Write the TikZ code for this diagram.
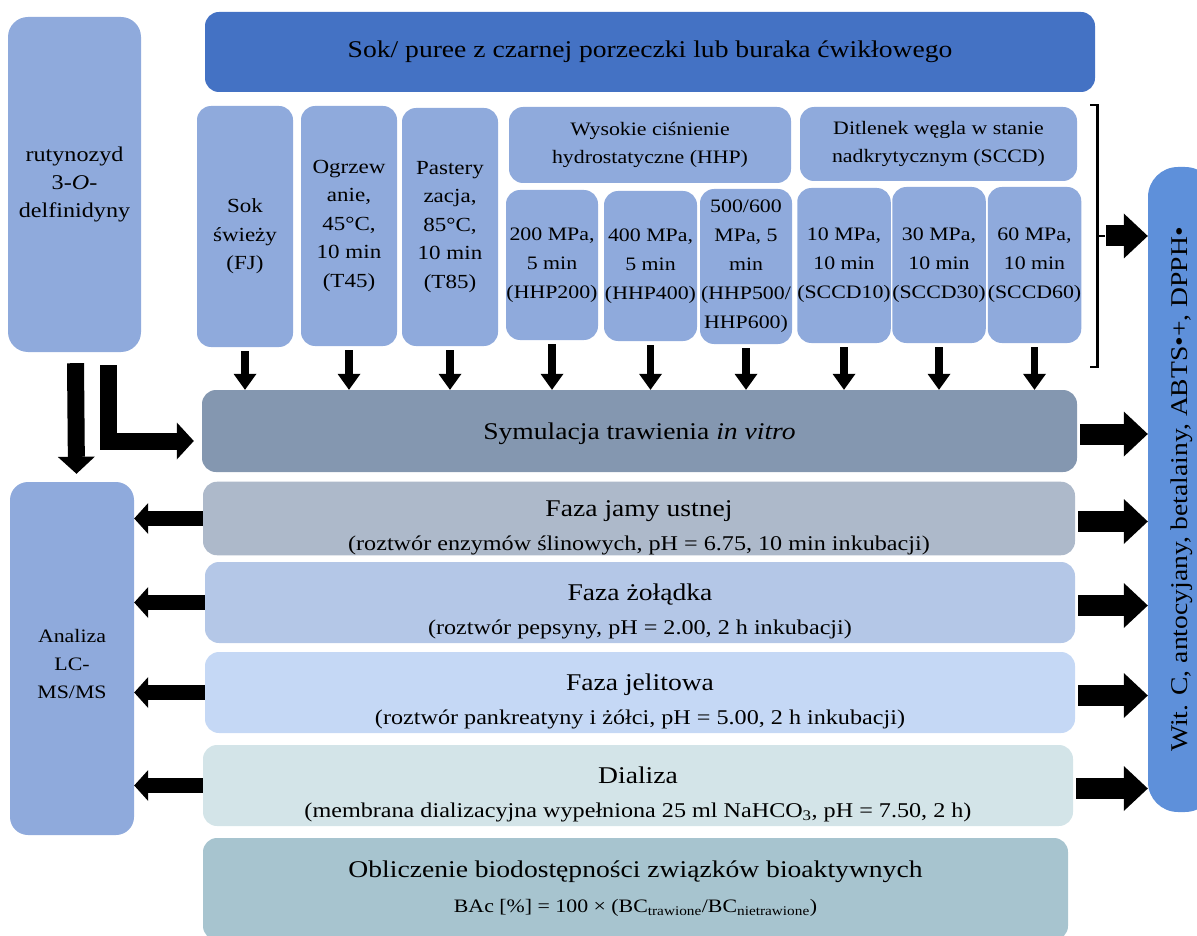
\documentclass[tikz,border=0pt]{standalone}
\usepackage{fontspec}
\setmainfont{Liberation Serif}[FakeStretch=1.15]
\usetikzlibrary{arrows.meta}
\definecolor{cBox}{HTML}{8FAADC}
\definecolor{cHead}{HTML}{4472C4}
\definecolor{cSym}{HTML}{8497B0}
\definecolor{cJama}{HTML}{ADB9CA}
\definecolor{cZol}{HTML}{B4C7E7}
\definecolor{cJel}{HTML}{C5D8F5}
\definecolor{cDial}{HTML}{D3E4E8}
\definecolor{cObl}{HTML}{A7C4CF}
\definecolor{cWit}{HTML}{5E90DA}
\tikzset{
  bx/.style={rounded corners=14pt, inner sep=0pt, align=center, text=black},
  colfont/.style={font=\fontsize{20}{28.5}\selectfont},
  mpafont/.style={font=\fontsize{19}{29}\selectfont},
  grpfont/.style={font=\fontsize{19}{28}\selectfont},
  phasefont/.style={font=\fontsize{21}{34}\selectfont},
  sarr/.style={line width=7.5pt, -{Triangle[width=23pt,length=16pt,line width=0pt]}},
  rarr/.style={line width=21pt, -{Triangle[width=45pt,length=24pt,line width=0pt]}},
  larr/.style={line width=15pt, -{Triangle[width=31pt,length=14pt,line width=0pt]}},
  barr/.style={line width=17pt, line join=miter, -{Triangle[width=37pt,length=17pt,line width=0pt]}},
}
\newcommand{\ttl}[1]{{\fontsize{24}{34}\selectfont\rule{0pt}{35pt}#1}}
\begin{document}
\begin{tikzpicture}[x=1pt,y=-1pt]
\useasboundingbox (0,0) rectangle (1197,936);
\clip (0,0) rectangle (1197,936);
% left boxes
\node[bx, fill=cBox, minimum width=133pt, minimum height=335pt, rounded corners=20pt, font=\fontsize{21}{28}\selectfont] (ru) at (74.5,184.5) {rutynozyd\\3-\textit{O}-\\delfinidyny};
\node[bx, fill=cBox, minimum width=124pt, minimum height=353pt, rounded corners=18pt, font=\fontsize{19}{28}\selectfont] (an) at (72,658.5) {\rule{0pt}{25pt}Analiza\\LC-\\MS/MS};
% header
\node[bx, fill=cHead, minimum width=890pt, minimum height=80pt, font=\fontsize{24}{30}\selectfont] (head) at (650,52) {Sok/ puree z czarnej porzeczki lub buraka ćwikłowego};
% columns
\node[bx, fill=cBox, minimum width=96pt, minimum height=241pt, colfont] (c1) at (245,226.5) {\rule{0pt}{34pt}Sok\\świeży\\(FJ)};
\node[bx, fill=cBox, minimum width=96pt, minimum height=240pt, colfont] (c2) at (349,226) {Ogrzew\\anie,\\45°C,\\10 min\\(T45)};
\node[bx, fill=cBox, minimum width=96pt, minimum height=238pt, colfont] (c3) at (450,227) {Pastery\\zacja,\\85°C,\\10 min\\(T85)};
\node[bx, fill=cBox, minimum width=282pt, minimum height=76pt, grpfont] (hhp) at (650,145) {Wysokie ciśnienie\\hydrostatyczne (HHP)};
\node[bx, fill=cBox, minimum width=92pt, minimum height=150pt, mpafont] (h1) at (552,265) {200 MPa,\\5 min\\(HHP200)};
\node[bx, fill=cBox, minimum width=93pt, minimum height=150pt, mpafont] (h2) at (650.5,266) {400 MPa,\\5 min\\(HHP400)};
\node[bx, fill=cBox, minimum width=92pt, minimum height=155pt, mpafont] (h3) at (746,266.5) {500/600\\MPa, 5\\min\\(HHP500/\\HHP600)};
\node[bx, fill=cBox, minimum width=277pt, minimum height=74pt, grpfont] (sccd) at (938.5,144) {Ditlenek węgla w stanie\\nadkrytycznym (SCCD)};
\node[bx, fill=cBox, minimum width=92pt, minimum height=155pt, mpafont] (s1) at (844,265.5) {10 MPa,\\10 min\\(SCCD10)};
\node[bx, fill=cBox, minimum width=92pt, minimum height=156pt, mpafont] (s2) at (939,265) {30 MPa,\\10 min\\(SCCD30)};
\node[bx, fill=cBox, minimum width=93pt, minimum height=156pt, mpafont] (s3) at (1034.5,265) {60 MPa,\\10 min\\(SCCD60)};
% digestion boxes
\node[bx, fill=cSym, minimum width=875pt, minimum height=82pt, font=\fontsize{24}{30}\selectfont] (sym) at (639.5,431) {\rule{0pt}{22pt}Symulacja trawienia \textit{in vitro}};
\node[bx, fill=cJama, minimum width=872pt, minimum height=73pt, phasefont] (jama) at (639,518.5) {\ttl{Faza jamy ustnej}\\(roztwór enzymów ślinowych, pH = 6.75, 10 min inkubacji)};
\node[bx, fill=cZol, minimum width=870pt, minimum height=81pt, phasefont] (zol) at (640,602.5) {\ttl{Faza żołądka}\\(roztwór pepsyny, pH = 2.00, 2 h inkubacji)};
\node[bx, fill=cJel, minimum width=870pt, minimum height=81pt, phasefont] (jel) at (640,692.5) {\ttl{Faza jelitowa}\\(roztwór pankreatyny i żółci, pH = 5.00, 2 h inkubacji)};
\node[bx, fill=cDial, minimum width=870pt, minimum height=81pt, phasefont] (dial) at (638,785.5) {\ttl{Dializa}\\(membrana dializacyjna wypełniona 25 ml NaHCO\textsubscript{3}, pH = 7.50, 2 h)};
\node[bx, fill=cObl, minimum width=865pt, minimum height=102pt, font=\fontsize{19}{35}\selectfont] (obl) at (635.5,889) {{\fontsize{24}{34}\selectfont Obliczenie biodostępności związków bioaktywnych}\\BAc [\%] = 100 × (BC\textsubscript{trawione}/BC\textsubscript{nietrawione})};
% right box
\node[bx, fill=cWit, minimum width=645pt, minimum height=67pt, rounded corners=30pt, rotate=90, font=\fontsize{24}{30}\selectfont] (wit) at (1181.5,489.5) {Wit. C, antocyjany, betalainy, ABTS•+, DPPH•};
% bracket
\draw[line width=2.5pt] (1090,105) -- (1097.5,105) -- (1097.5,367) -- (1090,367);
\draw[line width=2.5pt] (1097.5,236) -- (1105,236);
\coordinate (br) at (1106,236);
% small down arrows
\foreach \n in {c1,c2,c3,h1,h2,h3,s1,s2,s3}{
  \draw[sarr] ([yshift=-4pt]\n.south) -- (\n.south |- sym.north);
}
% right arrows
\draw[rarr] (br) -- (br -| wit.north);
\foreach \n in {sym,jama,zol,jel,dial}{
  \draw[rarr] ([xshift=3pt,yshift=-3pt]\n.east) -- ([yshift=-3pt]\n.east -| wit.north);
}
% left arrows
\foreach \n in {jama,zol,jel,dial}{
  \draw[larr] (\n.west) -- (\n.west -| an.east);
}
% arrows from rutynozyd
\draw[barr] ([xshift=1pt,yshift=-11pt]ru.south) -- ([xshift=4.5pt,yshift=8pt]an.north);
\draw[barr] ([xshift=34pt,yshift=-13pt]ru.south) |- ([xshift=-8pt,yshift=-10pt]sym.west);
\end{tikzpicture}
\end{document}
